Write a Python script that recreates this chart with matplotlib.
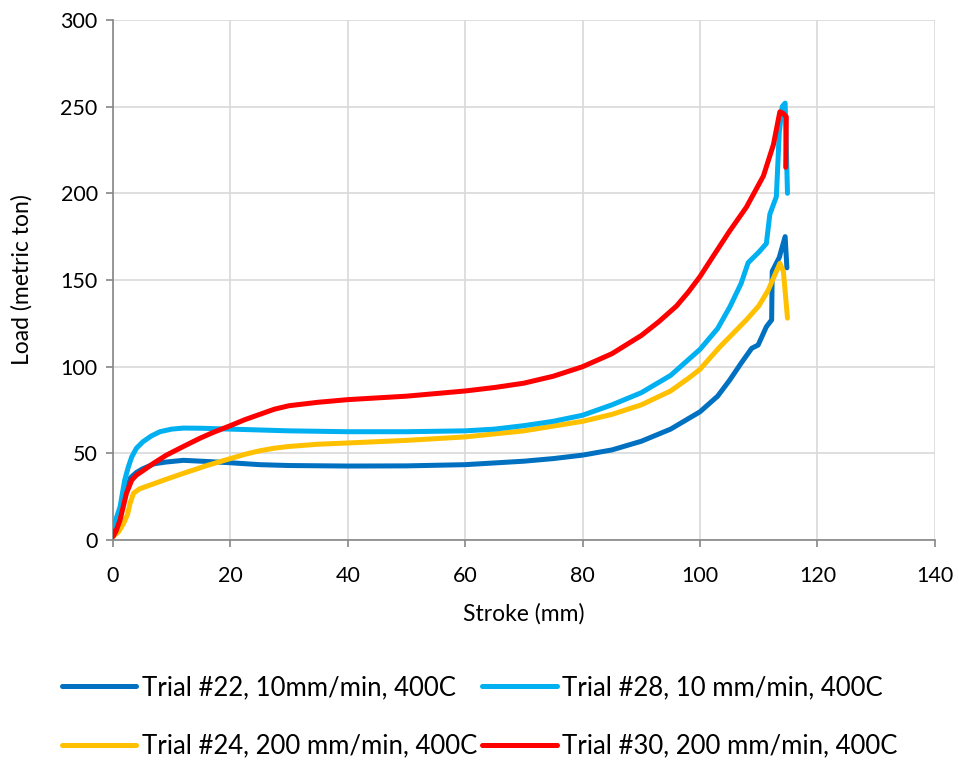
import matplotlib
matplotlib.use("Agg")
import matplotlib.pyplot as plt

plt.rcParams["font.family"] = ["Lato", "DejaVu Sans"]

# Trial #22, 10mm/min, 400C
x22 = [0, 0.5, 1, 1.5, 2, 2.5, 3, 4, 5, 7, 9, 12, 15, 20, 25, 30, 40, 50, 60, 70,
       75, 80, 85, 90, 95, 100, 103, 105, 107, 108.8, 109.9, 111.3, 112.2, 112.3, 113.5, 114.5, 114.8]
y22 = [3, 7, 12, 18, 25, 31, 36, 39, 41, 44, 45, 46, 45.5, 44.6, 43.5, 43, 42.7, 42.8, 43.5, 45.5,
       47, 49, 52, 57, 64, 74, 83, 92, 102, 110.6, 112.5, 123, 127, 155, 163, 175, 157]

# Trial #24, 200 mm/min, 400C
x24 = [0, 1, 1.8, 2.5, 2.9, 3.5, 4.5, 6.3, 9, 12, 16, 20, 22.5, 25, 27.5, 30, 35, 40, 50, 60, 70, 80, 85,
       90, 95, 98.3, 100, 103.4, 105, 107.9, 110, 111.6, 113.6, 114.2, 114.9]
y24 = [2, 5, 9.6, 15, 21, 27, 29.5, 31.7, 35, 38.5, 43, 47, 49.5, 51.5, 53, 54, 55.3, 56, 57.5, 59.5, 63, 68.5, 72.5,
       78, 86, 94, 98.5, 111.5, 117, 127, 135, 144, 159.6, 155, 128]

# Trial #28, 10 mm/min, 400C
x28 = [0, 0.5, 1.2, 2, 2.6, 3.2, 4, 5.1, 6.5, 8, 10, 12, 15, 20, 25, 30, 40, 50, 60, 65,
       70, 75, 80, 85, 90, 95, 100, 103, 105.1, 107, 108.2, 110, 111.3, 111.9, 113, 113.5,
       114, 114.5, 114.9]
y28 = [8, 12, 19, 34.6, 42, 48, 53, 56.7, 60, 62.5, 64, 64.6, 64.5, 64, 63.5, 63, 62.5, 62.5, 63, 64,
       66, 68.5, 72, 78, 85, 95, 110, 122, 134.6, 148, 160, 166, 171, 188, 198, 235,
       250, 252, 200]

# Trial #30, 200 mm/min, 400C
x30 = [0, 0.5, 1.2, 2.3, 3.2, 4, 5.1, 7, 9.1, 12, 14.8, 17, 20, 22.5, 25, 27.5, 30, 35, 40, 50, 60, 65,
       70, 75, 80, 85, 90, 93, 96, 98, 100, 102.2, 105, 107.9, 110.8, 112.5, 113.6, 114.2, 114.7, 114.6]
y30 = [2, 5, 11.5, 27, 34.6, 37.5, 40, 44.5, 49, 54, 58.7, 62, 66, 69.5, 72.5, 75.5, 77.5, 79.5, 81, 83, 86, 88,
       90.5, 94.5, 100, 107.5, 118, 126, 135, 143, 152, 163.5, 178, 192, 210, 228, 247, 246, 244, 215]

labels = ["Trial #22, 10mm/min, 400C", "Trial #24, 200 mm/min, 400C",
          "Trial #28, 10 mm/min, 400C", "Trial #30, 200 mm/min, 400C"]
colors = ["#0070C0", "#FFC000", "#00B0F0", "#FF0000"]
series = [(x22, y22), (x24, y24), (x28, y28), (x30, y30)]
zorders = [3, 4, 5, 6]

fig = plt.figure(figsize=(9.59, 7.65), dpi=100)
ax = fig.add_axes([0.1178, 0.294, 0.857, 0.680])

for (xs, ys), lab, c, z in zip(series, labels, colors, zorders):
    ax.plot(xs, ys, color=c, lw=3.6, label=lab, zorder=z, solid_capstyle="round",
            solid_joinstyle="round")

ax.set_xlim(0, 140)
ax.set_ylim(0, 300)
ax.set_xticks(range(0, 141, 20))
ax.set_yticks(range(0, 301, 50))
ax.grid(color="#d9d9d9", lw=1.2)
ax.set_axisbelow(True)
for s in ["top", "right"]:
    ax.spines[s].set_visible(False)
for s in ["left", "bottom"]:
    ax.spines[s].set_color("#868686")
    ax.spines[s].set_linewidth(1.2)
ax.tick_params(colors="#868686", labelcolor="black", labelsize=15.5, length=5, width=1.2, pad=6)
ax.tick_params(axis="x", pad=14)
ax.set_xlabel("Stroke (mm)", fontsize=16.5, labelpad=12)
ax.set_ylabel("Load (metric ton)", fontsize=16.5, labelpad=20)

fig.legend(loc="center", bbox_to_anchor=(0.5, 0.063), ncol=2, frameon=False, fontsize=18.5,
           handlelength=2.9, handletextpad=0.2, columnspacing=0.2, labelspacing=1.3)

fig.savefig("out.png", dpi=100)
